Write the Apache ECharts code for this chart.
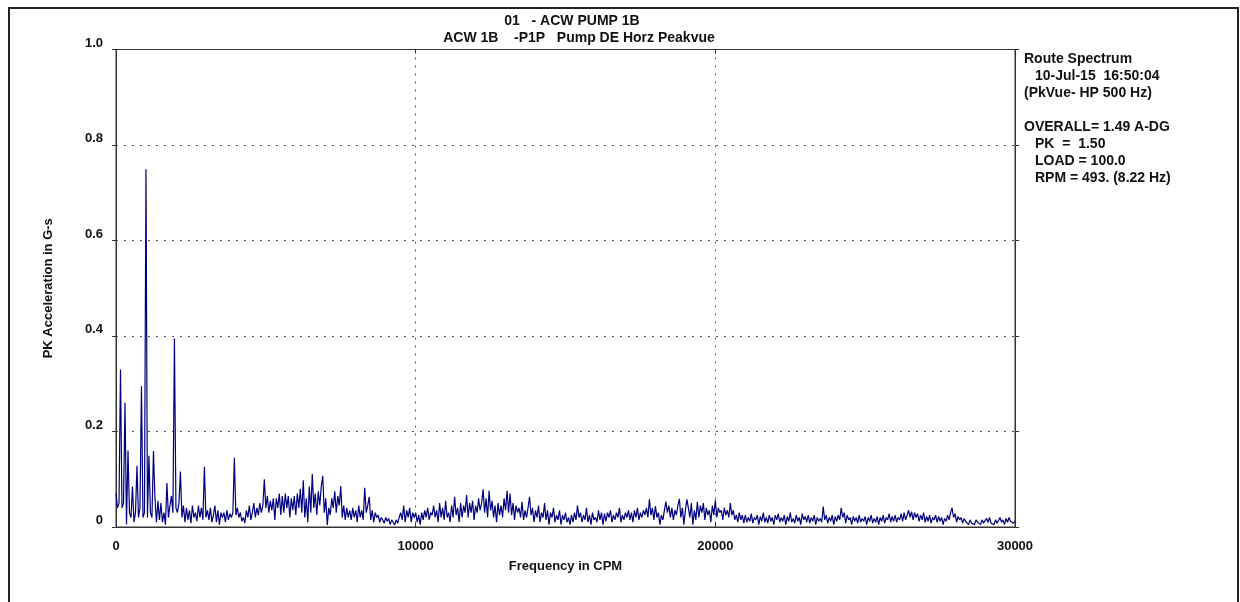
<!DOCTYPE html>
<html>
<head>
<meta charset="utf-8">
<title>ACW PUMP 1B - Route Spectrum</title>
<script src="https://cdn.jsdelivr.net/npm/echarts@6/dist/echarts.min.js"></script>
<style>
  html, body { margin: 0; padding: 0; background: #fff; }
  #chart { width: 1240px; height: 602px; }
</style>
</head>
<body>
<div id="chart"></div>
<script>
// Spectrum amplitude (G-s, peak) per 50 CPM bin, split by frequency band
const binWidth = 50;
const band0to5k = [
  0.07,0.04,0.05,0.33,0.04,0.05,0.26,0.005,0.16,0.03,
  0.02,0.085,0.01,0.03,0.128,0.02,0.04,0.295,0.02,0.03,
  0.749,0.02,0.149,0.03,0.02,0.159,0.06,0.01,0.055,0.015,
  0.05,0.01,0.03,0.005,0.092,0.02,0.045,0.065,0.03,0.395,
  0.04,0.03,0.05,0.116,0.02,0.045,0.01,0.04,0.015,0.035,
  0.008,0.045,0.02,0.03,0.012,0.045,0.02,0.04,0.015,0.126,
  0.02,0.035,0.015,0.04,0.01,0.025,0.045,0.01,0.035,0.005,
  0.03,0.02,0.03,0.01,0.035,0.015,0.028,0.02,0.03,0.145,
  0.025,0.04,0.02,0.03,0.012,0.02,0.008,0.035,0.02,0.045,
  0.015,0.03,0.05,0.02,0.04,0.025,0.05,0.03,0.045,0.10
];
const band5kto10k = [
  0.04,0.065,0.03,0.055,0.035,0.06,0.015,0.06,0.04,0.07,
  0.025,0.065,0.03,0.07,0.04,0.065,0.02,0.06,0.035,0.065,
  0.025,0.07,0.04,0.08,0.03,0.098,0.02,0.06,0.01,0.085,
  0.03,0.111,0.04,0.07,0.025,0.075,0.045,0.085,0.107,0.03,
  0.06,0.004,0.04,0.025,0.06,0.04,0.075,0.03,0.065,0.045,
  0.086,0.02,0.045,0.015,0.04,0.02,0.035,0.015,0.04,0.02,
  0.035,0.01,0.045,0.02,0.035,0.015,0.082,0.03,0.045,0.063,
  0.015,0.035,0.01,0.03,0.02,0.025,0.01,0.02,0.015,0.008,
  0.02,0.012,0.018,0.005,0.015,0.01,0.004,0.015,0.008,0.02,
  0.03,0.015,0.045,0.01,0.035,0.02,0.04,0.01,0.03,0.02
];
const band10kto15k = [
  0.03,0.01,0.025,0.005,0.03,0.015,0.035,0.02,0.04,0.015,
  0.03,0.025,0.045,0.02,0.035,0.01,0.05,0.02,0.04,0.015,
  0.055,0.02,0.03,0.01,0.045,0.02,0.063,0.025,0.04,0.01,
  0.05,0.02,0.045,0.03,0.067,0.02,0.05,0.03,0.055,0.015,
  0.045,0.03,0.06,0.035,0.05,0.079,0.03,0.06,0.02,0.076,
  0.035,0.055,0.02,0.045,0.01,0.05,0.025,0.045,0.02,0.06,
  0.035,0.076,0.03,0.07,0.025,0.05,0.015,0.045,0.03,0.04,
  0.02,0.053,0.015,0.035,0.02,0.04,0.063,0.025,0.04,0.01,
  0.035,0.02,0.045,0.01,0.03,0.02,0.05,0.015,0.035,0.005,
  0.03,0.02,0.04,0.01,0.025,0.015,0.035,0.005,0.025,0.015
];
const band15kto20k = [
  0.03,0.01,0.02,0.005,0.025,0.01,0.03,0.015,0.045,0.02,
  0.03,0.01,0.025,0.015,0.04,0.01,0.025,0.005,0.03,0.015,
  0.02,0.01,0.035,0.015,0.03,0.005,0.028,0.012,0.03,0.02,
  0.035,0.01,0.025,0.015,0.03,0.02,0.04,0.01,0.025,0.015,
  0.03,0.02,0.035,0.015,0.03,0.01,0.035,0.02,0.04,0.015,
  0.03,0.02,0.035,0.025,0.04,0.02,0.058,0.025,0.04,0.015,
  0.044,0.02,0.03,0.005,0.025,0.015,0.035,0.053,0.03,0.045,
  0.02,0.04,0.015,0.035,0.025,0.045,0.059,0.02,0.04,0.005,
  0.035,0.058,0.04,0.02,0.05,0.005,0.035,0.015,0.053,0.02,
  0.045,0.03,0.05,0.015,0.04,0.025,0.035,0.01,0.045,0.025
];
const band20kto25k = [
  0.056,0.02,0.04,0.03,0.035,0.015,0.04,0.025,0.035,0.02,
  0.05,0.025,0.035,0.015,0.025,0.01,0.03,0.015,0.025,0.008,
  0.025,0.01,0.02,0.012,0.028,0.008,0.02,0.015,0.025,0.005,
  0.022,0.012,0.03,0.01,0.02,0.008,0.025,0.012,0.02,0.005,
  0.025,0.015,0.028,0.01,0.02,0.012,0.025,0.005,0.022,0.012,
  0.03,0.01,0.018,0.008,0.025,0.012,0.02,0.005,0.028,0.015,
  0.022,0.01,0.025,0.008,0.02,0.012,0.025,0.005,0.02,0.012,
  0.018,0.01,0.043,0.015,0.025,0.008,0.02,0.012,0.025,0.005,
  0.022,0.012,0.025,0.015,0.04,0.02,0.03,0.008,0.025,0.015,
  0.02,0.005,0.022,0.012,0.02,0.008,0.025,0.01,0.018,0.012
];
const band25kto30k = [
  0.022,0.005,0.02,0.012,0.025,0.008,0.018,0.01,0.022,0.005,
  0.02,0.012,0.025,0.008,0.02,0.015,0.028,0.01,0.022,0.012,
  0.025,0.01,0.02,0.015,0.028,0.012,0.03,0.015,0.025,0.035,
  0.02,0.032,0.015,0.03,0.02,0.028,0.012,0.025,0.015,0.03,
  0.01,0.022,0.012,0.025,0.008,0.02,0.015,0.025,0.01,0.022,
  0.012,0.02,0.005,0.018,0.012,0.025,0.015,0.03,0.04,0.02,
  0.028,0.01,0.022,0.015,0.02,0.008,0.018,0.012,0.015,0.005,
  0.015,0.008,0.012,0.005,0.015,0.01,0.012,0.005,0.015,0.008,
  0.012,0.018,0.01,0.02,0.008,0.012,0.005,0.015,0.008,0.012,
  0.02,0.01,0.015,0.005,0.018,0.01,0.02,0.012,0.015,0.008,
  0.012
];

// Axis ranges and tick steps
const freqMin = 0, freqMax = 30000, freqStep = 10000;
const ampMin = 0, ampMax = 1, ampStep = 0.2;

// Header and measurement info text
const titleLines = ['01   - ACW PUMP 1B', 'ACW 1B    -P1P   Pump DE Horz Peakvue'];
const infoLines = [
  ['Route Spectrum', 0],
  ['10-Jul-15  16:50:04', 1],
  ['(PkVue- HP 500 Hz)', 0],
  ['', 0],
  ['OVERALL= 1.49 A-DG', 0],
  ['PK  =  1.50', 1],
  ['LOAD = 100.0', 1],
  ['RPM = 493. (8.22 Hz)', 1]
];

const amplitudes = [].concat(band0to5k, band5kto10k, band10kto15k, band15kto20k, band20kto25k, band25kto30k);
const spectrum = amplitudes.map((v, i) => [i * binWidth, v]);

const FONT = '"Liberation Sans", Arial, Helvetica, sans-serif';
const INK = '#111';
const AXIS = '#333';

const graphics = [
  { type: 'rect', shape: { x: 9, y: 8, width: 1229, height: 630 },
    style: { fill: 'none', stroke: '#222', lineWidth: 2 }, silent: true }
];
const titleX = [572, 579];
titleLines.forEach((t, i) => {
  graphics.push({ type: 'text', x: titleX[i], y: 21 + i * 17,
    style: { text: t, fill: INK, font: 'bold 14px ' + FONT, align: 'center', verticalAlign: 'middle' } });
});
infoLines.forEach(([t, indent], i) => {
  if (!t) return;
  graphics.push({ type: 'text', x: indent ? 1035 : 1024, y: 59 + i * 17,
    style: { text: t, fill: INK, font: 'bold 14px ' + FONT, align: 'left', verticalAlign: 'middle' } });
});

const chart = echarts.init(document.getElementById('chart'), null, { renderer: 'canvas' });
chart.setOption({
  animation: false,
  backgroundColor: '#fff',
  grid: { left: 116, top: 49.5, right: 225, bottom: 75, show: true, borderColor: AXIS, borderWidth: 1, backgroundColor: 'transparent' },
  xAxis: [{
    type: 'value', min: freqMin, max: freqMax, interval: freqStep,
    name: 'Frequency in CPM', nameLocation: 'middle', nameGap: 33,
    nameTextStyle: { color: INK, fontWeight: 'bold', fontSize: 13, fontFamily: FONT },
    axisLine: { show: true, onZero: false, lineStyle: { color: AXIS, width: 1 } },
    axisTick: { show: true, inside: true, length: 4, lineStyle: { color: AXIS } },
    axisLabel: { margin: 13, color: INK, fontWeight: 'bold', fontSize: 13, fontFamily: FONT,
      formatter: v => String(v) },
    splitLine: { show: true, lineStyle: { color: '#555', type: [2, 6], width: 1 } }
  }, {
    type: 'value', position: 'top', min: freqMin, max: freqMax, interval: freqStep,
    axisLine: { show: true, onZero: false, lineStyle: { color: AXIS, width: 1 } },
    axisTick: { show: true, inside: true, length: 4, lineStyle: { color: AXIS } },
    axisLabel: { show: false }, splitLine: { show: false }
  }],
  yAxis: [{
    type: 'value', min: ampMin, max: ampMax, interval: ampStep,
    name: 'PK Acceleration in G-s', nameLocation: 'middle', nameGap: 61,
    nameTextStyle: { color: INK, fontWeight: 'bold', fontSize: 13, fontFamily: FONT },
    axisLine: { show: true, onZero: false, lineStyle: { color: AXIS, width: 1 } },
    axisTick: { show: true, length: 4, lineStyle: { color: AXIS } },
    axisLabel: {
      margin: 13, color: INK, fontWeight: 'bold', fontSize: 13, fontFamily: FONT,
      verticalAlign: 'bottom',
      formatter: v => (v === 0 ? '0' : v.toFixed(1))
    },
    splitLine: { show: true, lineStyle: { color: '#555', type: [2, 6], width: 1 } }
  }, {
    type: 'value', position: 'right', min: ampMin, max: ampMax, interval: ampStep,
    axisLine: { show: true, onZero: false, lineStyle: { color: AXIS, width: 1 } },
    axisTick: { show: true, length: 4, lineStyle: { color: AXIS } },
    axisLabel: { show: false }, splitLine: { show: false }
  }],
  series: [{
    type: 'line', xAxisIndex: 0, yAxisIndex: 0,
    data: spectrum, showSymbol: false, symbol: 'none', silent: true,
    lineStyle: { color: '#00007f', width: 1.2 }
  }],
  graphic: graphics
});
</script>
</body>
</html>
